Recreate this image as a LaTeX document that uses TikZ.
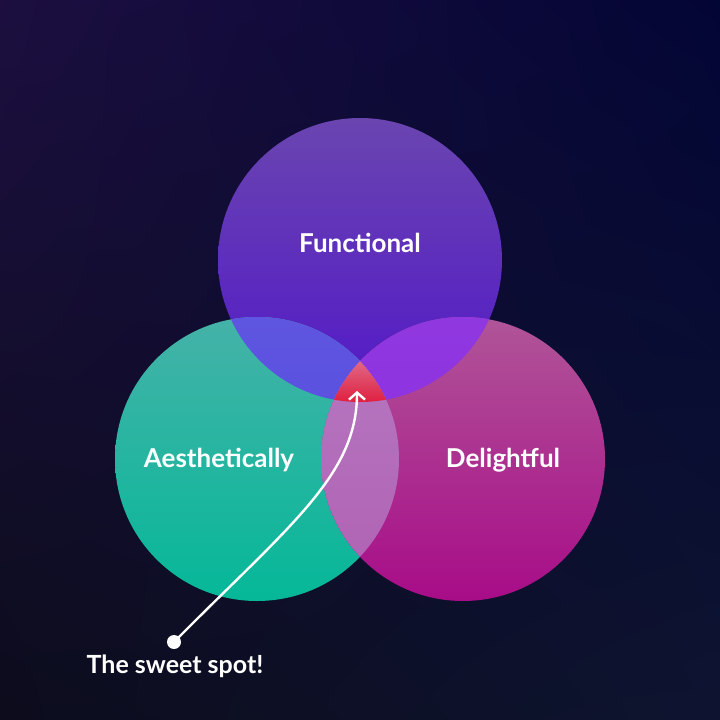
\documentclass[tikz,border=0pt]{standalone}
\usepackage{fontspec}
\setmainfont{Lato}
\usetikzlibrary{arrows.meta,shadings}
\definecolor{bgTL}{HTML}{1C0F40}
\definecolor{bgTR}{HTML}{030535}
\definecolor{bgBL}{HTML}{0C0C1C}
\definecolor{bgBR}{HTML}{0E1430}
\definecolor{funTop}{HTML}{6A45B0}
\definecolor{funBot}{HTML}{5218C8}
\definecolor{aesTop}{HTML}{45B2A8}
\definecolor{aesBot}{HTML}{05B898}
\definecolor{delTop}{HTML}{B05598}
\definecolor{delBot}{HTML}{A80C88}
\definecolor{faTop}{HTML}{5E55E0}
\definecolor{faBot}{HTML}{5548E0}
\definecolor{fdTop}{HTML}{9038E0}
\definecolor{fdBot}{HTML}{8828E0}
\definecolor{adTop}{HTML}{B67AC2}
\definecolor{adBot}{HTML}{B060B2}
\definecolor{midTop}{HTML}{E06A88}
\definecolor{midBot}{HTML}{E01E3E}
\tikzset{
  lbl/.style={text=white, font=\fontsize{26}{30}\selectfont\bfseries},
  pointer/.style={draw=white, line width=2.4pt, line cap=round},
}
\begin{document}
\begin{tikzpicture}[x=1pt,y=-1pt]
\useasboundingbox (0,0) rectangle (720,720);
\shade[upper left=bgTL, upper right=bgTR, lower left=bgBL, lower right=bgBR] (0,0) rectangle (720,720);
\def\R{142}
\coordinate (cF) at (360,260);
\coordinate (cA) at (257,459);
\coordinate (cD) at (463,459);
% base circles
\shade[top color=funTop, bottom color=funBot] (cF) circle (\R);
\shade[top color=aesTop, bottom color=aesBot] (cA) circle (\R);
\shade[top color=delTop, bottom color=delBot] (cD) circle (\R);
% pairwise overlaps
\begin{scope}
  \clip (cF) circle (\R);
  \shade[top color=faTop, bottom color=faBot] (cA) circle (\R);
\end{scope}
\begin{scope}
  \clip (cF) circle (\R);
  \shade[top color=fdTop, bottom color=fdBot] (cD) circle (\R);
\end{scope}
\begin{scope}
  \clip (cA) circle (\R);
  \shade[top color=adTop, bottom color=adBot] (cD) circle (\R);
\end{scope}
% triple overlap
\begin{scope}
  \clip (cF) circle (\R);
  \clip (cA) circle (\R);
  \clip (cD) circle (\R);
  \shade[top color=midTop, bottom color=midBot] (330,360) rectangle (390,403);
\end{scope}
% labels
\node[lbl] (lF) at (360,243) {Functional};
\node[lbl] (lA) at (219,460) {Aesthetically};
\node[lbl] (lD) at (503,460) {Delightful};
\node[lbl, font=\fontsize{25}{30}\selectfont\bfseries] (lS) at (175,666) {The sweet spot!};
% pointer
\coordinate (tip) at (357,391);
\node[circle, fill=white, inner sep=0pt, minimum size=14pt] (dot) at (174,642) {};
\draw[pointer, -{Straight Barb[length=7pt,width=16pt,line width=2.4pt]}] (dot.center) .. controls (290,525) and (357,475) .. (tip);
\end{tikzpicture}
\end{document}
